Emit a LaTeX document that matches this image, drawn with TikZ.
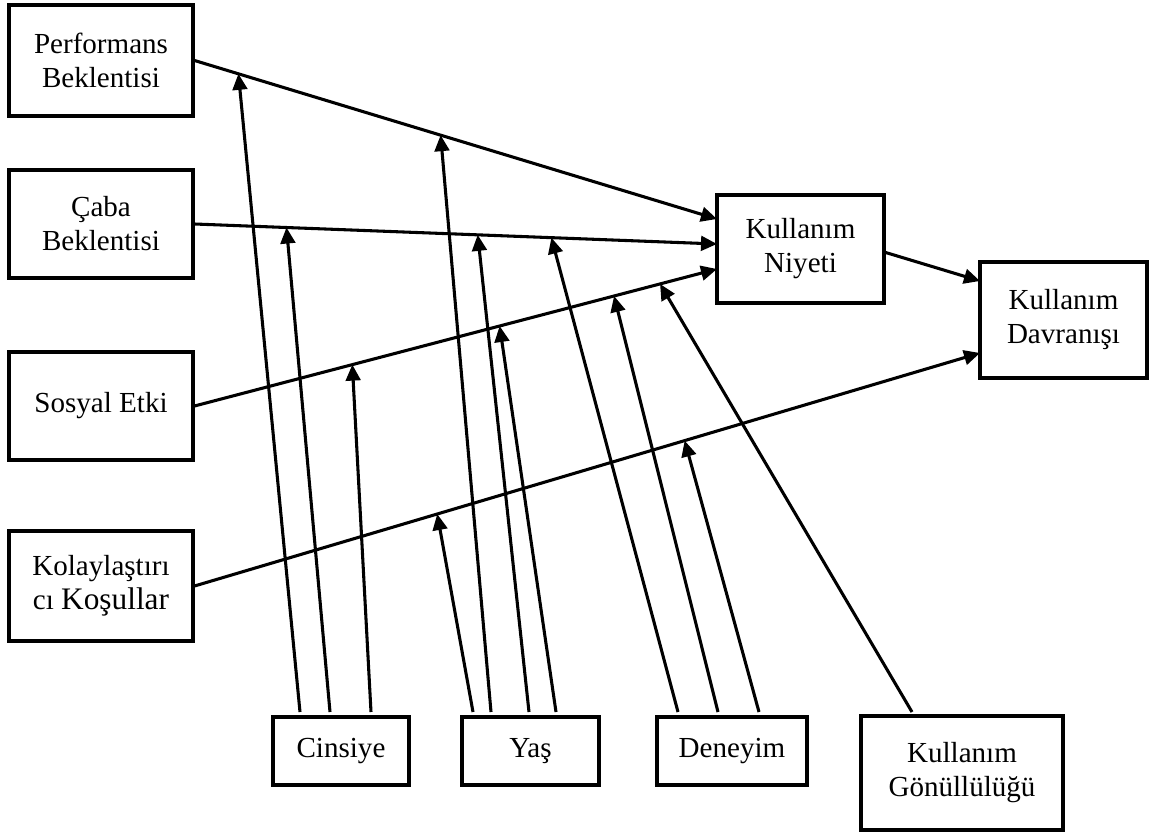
\documentclass[tikz,border=0pt]{standalone}
\usepackage{fontspec}
\setmainfont{Liberation Serif}
\usetikzlibrary{arrows.meta,calc}
\begin{document}
\begin{tikzpicture}[x=0.75pt,y=-0.75pt,
  box/.style={draw,line width=2.3pt,align=center,inner sep=0pt,font=\fontsize{21.8}{25.5}\selectfont},
  arr/.style={line width=2.3pt,-{Triangle[length=12pt,width=11pt]}}]
\useasboundingbox (0,0) rectangle (1150,834);
% boxes
\node[box,minimum width=138pt,minimum height=83.25pt] (perf) at (101,60.5) {Performans\\Beklentisi};
\node[box,minimum width=138pt,minimum height=81pt] (caba) at (101,224) {Çaba\\Beklentisi};
\node[box,minimum width=138pt,minimum height=81pt] (sos) at (101,406) {Sosyal Etki};
\node[box,minimum width=138pt,minimum height=82.5pt] (kol) at (101,586) {Kolaylaştırı\\cı {\fontsize{23.5}{25.5}\selectfont Koşullar}};
\node[box,minimum width=125.25pt,minimum height=81pt] (niy) at (800.5,249) {Kullanım\\Niyeti};
\node[box,minimum width=125.25pt,minimum height=87pt] (dav) at (1063.5,320) {Kullanım\\Davranışı};
\node[box,minimum width=102pt,minimum height=51pt] (cin) at (341,751) {Cinsiye};
\node[box,minimum width=102.75pt,minimum height=51pt] (yas) at (530.5,751) {Yaş};
\node[box,minimum width=112.5pt,minimum height=51pt] (den) at (732,751) {Deneyim};
\node[box,minimum width=151.5pt,minimum height=85.5pt] (gon) at (962,773) {Kullanım\\Gönüllülüğü};
% main end points
\coordinate (na) at (717,219);
\coordinate (nb) at (717,244);
\coordinate (nc) at (717,269);
\coordinate (da) at (980,353);
\coordinate (db) at (980,281);
\coordinate (ne) at (884,252);
% main arrows
\draw[arr] (perf.east) -- (na);
\draw[arr] (caba.east) -- (nb);
\draw[arr] (sos.east) -- (nc);
\draw[arr] (kol.east) -- (da);
\draw[arr] (ne) -- (db);
% targets on main lines
\coordinate (tc1) at ($(perf.east)!0.084!(na)$);
\coordinate (ty2) at ($(perf.east)!0.471!(na)$);
\coordinate (tc2) at ($(caba.east)!0.176!(nb)$);
\coordinate (ty3) at ($(caba.east)!0.542!(nb)$);
\coordinate (td1) at ($(caba.east)!0.683!(nb)$);
\coordinate (tc3) at ($(sos.east)!0.302!(nc)$);
\coordinate (ty4) at ($(sos.east)!0.584!(nc)$);
\coordinate (td2) at ($(sos.east)!0.803!(nc)$);
\coordinate (tg) at ($(sos.east)!0.891!(nc)$);
\coordinate (ty1) at ($(kol.east)!0.309!(da)$);
\coordinate (td3) at ($(kol.east)!0.624!(da)$);
% start points
\coordinate (sc1) at (300,712);
\coordinate (sc2) at (330,712);
\coordinate (sc3) at (371,712);
\coordinate (sy1) at (473,712);
\coordinate (sy2) at (491,712);
\coordinate (sy3) at (529,712);
\coordinate (sy4) at (556,712);
\coordinate (sd1) at (678,712);
\coordinate (sd2) at (718,712);
\coordinate (sd3) at (759,712);
\coordinate (sg) at (912,712);
% moderator arrows
\draw[arr] (sc1) -- (tc1);
\draw[arr] (sc2) -- (tc2);
\draw[arr] (sc3) -- (tc3);
\draw[arr] (sy1) -- (ty1);
\draw[arr] (sy2) -- (ty2);
\draw[arr] (sy3) -- (ty3);
\draw[arr] (sy4) -- (ty4);
\draw[arr] (sd1) -- (td1);
\draw[arr] (sd2) -- (td2);
\draw[arr] (sd3) -- (td3);
\draw[arr] (sg) -- (tg);
\end{tikzpicture}
\end{document}
